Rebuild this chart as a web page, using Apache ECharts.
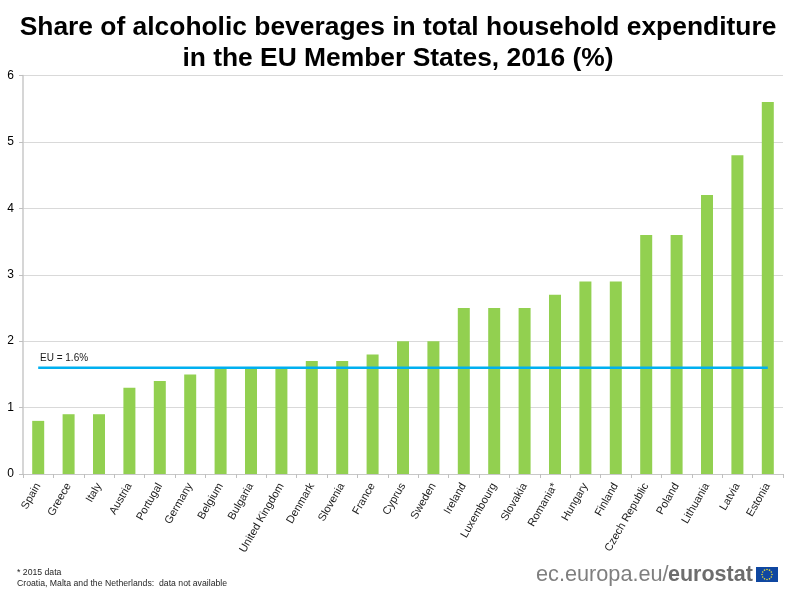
<!DOCTYPE html>
<html>
<head>
<meta charset="utf-8">
<style>
  html, body { margin: 0; padding: 0; background: #fff; }
  #chart { width: 800px; height: 597px; }
</style>
<script src="https://cdn.jsdelivr.net/npm/echarts@6/dist/echarts.min.js"></script>
</head>
<body>
<div id="chart"></div>
<script>
const countries = ['Spain', 'Greece', 'Italy', 'Austria', 'Portugal', 'Germany', 'Belgium', 'Bulgaria',
  'United Kingdom', 'Denmark', 'Slovenia', 'France', 'Cyprus', 'Sweden', 'Ireland', 'Luxembourg',
  'Slovakia', 'Romania*', 'Hungary', 'Finland', 'Czech Republic', 'Poland', 'Lithuania', 'Latvia', 'Estonia'];
const shares = [0.8, 0.9, 0.9, 1.3, 1.4, 1.5, 1.6, 1.6, 1.6, 1.7, 1.7, 1.8, 2.0, 2.0, 2.5, 2.5, 2.5, 2.7, 2.9, 2.9, 3.6, 3.6, 4.2, 4.8, 5.6];
const euAverage = countries.map(function () { return 1.6; });
const FONT = '"Liberation Sans", Arial, sans-serif';

// EU flag of the logo: twelve stars on a ring
function flagStars(cx, cy, r) {
  let stars = [];
  for (let i = 0; i < 12; i++) {
    let a = i * Math.PI / 6;
    stars.push({
      type: 'circle',
      shape: { cx: cx + r * Math.cos(a), cy: cy + r * Math.sin(a), r: 0.8 },
      style: { fill: '#e6d93a' }
    });
  }
  return stars;
}

let chart = echarts.init(document.getElementById('chart'));
chart.setOption({
  animation: false,
  backgroundColor: '#fff',
  title: {
    text: 'Share of alcoholic beverages in total household expenditure\nin the EU Member States, 2016 (%)',
    left: 393,
    top: 7,
    textAlign: 'center',
    textStyle: { fontFamily: FONT, fontSize: 26.4, fontWeight: 'bold', color: '#000', lineHeight: 31 }
  },
  grid: { left: 23, right: 17, top: 75.5, bottom: 123 },
  xAxis: {
    type: 'category',
    data: countries,
    axisLine: { lineStyle: { color: '#c8c8c8', width: 1 } },
    axisTick: { show: true, length: 4, inside: false, lineStyle: { color: '#bfbfbf' } },
    axisLabel: { rotate: 60, interval: 0, margin: 10, fontFamily: FONT, fontSize: 11, color: '#1a1a1a' }
  },
  yAxis: {
    type: 'value',
    min: 0,
    max: 6,
    interval: 1,
    axisLine: { show: true, lineStyle: { color: '#c8c8c8', width: 1.5 } },
    axisTick: { show: true, length: 4, lineStyle: { color: '#bfbfbf' } },
    axisLabel: { margin: 9, fontFamily: FONT, fontSize: 12, color: '#000' },
    splitLine: { lineStyle: { color: '#d9d9d9', width: 1 } }
  },
  series: [
    {
      type: 'bar',
      data: shares,
      barWidth: 12,
      itemStyle: { color: '#92d050' }
    },
    {
      type: 'line',
      data: euAverage,
      symbol: 'none',
      lineStyle: { color: '#00b0f0', width: 2.5 },
      z: 5
    }
  ],
  graphic: [
    { type: 'text', left: 40, top: 353, style: { text: 'EU = 1.6%', font: '10px ' + FONT, fill: '#1a1a1a' } },
    { type: 'text', left: 17, top: 568, style: { text: '* 2015 data', font: '8.7px ' + FONT, fill: '#262626' } },
    { type: 'text', left: 17, top: 579, style: { text: 'Croatia, Malta and the Netherlands:  data not available', font: '8.7px ' + FONT, fill: '#262626' } },
    { type: 'text', left: 536, top: 564, style: { text: 'ec.europa.eu/', font: '21.7px ' + FONT, fill: '#7f7f7f' } },
    { type: 'text', left: 668, top: 564, style: { text: 'eurostat', font: 'bold 21.5px ' + FONT, fill: '#6d6d6d' } },
    {
      type: 'group',
      children: [{
        type: 'rect',
        shape: { x: 756, y: 567, width: 22, height: 15 },
        style: { fill: '#0f47a1' }
      }].concat(flagStars(767, 574.5, 5))
    }
  ]
});
</script>
</body>
</html>
